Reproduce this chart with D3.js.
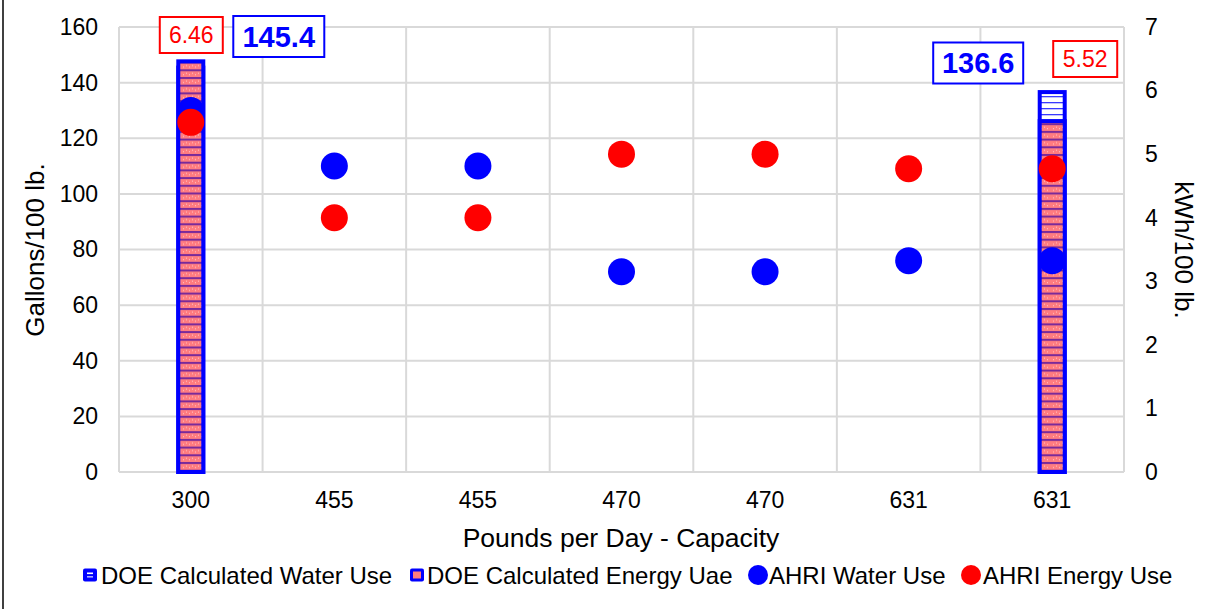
<!DOCTYPE html>
<html><head><meta charset="utf-8">
<script src="https://cdn.jsdelivr.net/npm/d3@7"></script>
<style>body{margin:0;background:#fff}svg{display:block;font-family:"Liberation Sans",Arial,sans-serif}</style>
</head><body>
<script>
const categories = ["300","455","455","470","470","631","631"];
const doeWater   = [145.4,null,null,null,null,null,136.6];
const doeEnergy  = [6.46,null,null,null,null,null,5.52];
const ahriWater  = [130,110,110,72,72,76,76];
const ahriEnergy = [5.5,4.0,4.0,5.0,5.0,4.77,4.77];
const leftTicks  = [0,20,40,60,80,100,120,140,160];
const rightTicks = [0,1,2,3,4,5,6,7];
const seriesNames = ["DOE Calculated Water Use","DOE Calculated Energy Uae","AHRI Water Use","AHRI Energy Use"];

const W=1215,H=609;
const svg=d3.select("body").append("svg").attr("width",W).attr("height",H);
const defs=svg.append("defs");
const pw=defs.append("pattern").attr("id","pw").attr("patternUnits","userSpaceOnUse").attr("width",30).attr("height",6);
pw.append("rect").attr("width",30).attr("height",6).attr("fill","#fff");
pw.append("rect").attr("y",0).attr("width",30).attr("height",1.3).attr("fill","#3a3aff");
const pe=defs.append("pattern").attr("id","pe").attr("patternUnits","userSpaceOnUse").attr("width",30).attr("height",7.7);
pe.append("rect").attr("width",30).attr("height",7.7).attr("fill","#ff7c80");
pe.append("rect").attr("y",0).attr("width",30).attr("height",2).attr("fill","#7a2a9a");
[3,6,9,12,15,18,21,24,27].forEach((x,i)=>{pe.append("rect").attr("x",x).attr("y",i%2?3.5:5).attr("width",1).attr("height",1).attr("fill","#ffc8c8");});

const x=d3.scaleBand().domain(d3.range(categories.length)).range([119,1124]);
const y=d3.scaleLinear().domain([0,160]).range([472,27]);
const yR=d3.scaleLinear().domain([0,7]).range([472,27]);
const grid="#d9d9d9";

// grid
svg.append("g").selectAll("line").data(leftTicks).join("line")
 .attr("x1",119).attr("x2",1124).attr("y1",d=>y(d)).attr("y2",d=>y(d))
 .attr("stroke",grid).attr("stroke-width",2);
svg.append("g").selectAll("line").data(d3.range(categories.length+1)).join("line")
 .attr("x1",d=>119+d*x.step()).attr("x2",d=>119+d*x.step()).attr("y1",27).attr("y2",472)
 .attr("stroke",grid).attr("stroke-width",2);

// axes
const gl=svg.append("g").attr("transform","translate(119,0)")
 .call(d3.axisLeft(y).tickValues(leftTicks).tickSize(0).tickPadding(21));
const gr=svg.append("g").attr("transform","translate(1124,0)")
 .call(d3.axisRight(yR).tickValues(rightTicks).tickFormat(d3.format("d")).tickSize(0).tickPadding(21));
const gb=svg.append("g").attr("transform","translate(0,472)")
 .call(d3.axisBottom(x).tickFormat(i=>categories[i]).tickSize(0).tickPadding(20));
[gl,gr,gb].forEach(g=>{g.select(".domain").remove();g.selectAll("text").attr("font-size",23).attr("fill","#000").attr("font-family","Liberation Sans, Arial");});
svg.append("line").attr("x1",119).attr("x2",1124).attr("y1",472).attr("y2",472).attr("stroke",grid).attr("stroke-width",2);

// bars
const bw=25;
const bx=i=>x(i)+x.bandwidth()/2-bw/2;
svg.append("g").selectAll("rect").data(doeWater.map((v,i)=>({v,i})).filter(d=>d.v!=null)).join("rect")
 .attr("x",d=>bx(d.i)).attr("width",bw).attr("y",d=>y(d.v)).attr("height",d=>472-y(d.v))
 .attr("fill","url(#pw)").attr("stroke","#0000ff").attr("stroke-width",4);
svg.append("g").selectAll("rect").data(doeEnergy.map((v,i)=>({v,i})).filter(d=>d.v!=null)).join("rect")
 .attr("x",d=>bx(d.i)).attr("width",bw).attr("y",d=>yR(d.v)).attr("height",d=>472-yR(d.v))
 .attr("fill","url(#pe)").attr("stroke","#0000ff").attr("stroke-width",4);

// dots
svg.append("g").selectAll("circle").data(ahriWater).join("circle")
 .attr("cx",(d,i)=>x(i)+x.bandwidth()/2).attr("cy",d=>y(d)).attr("r",13.5).attr("fill","#0000ff");
svg.append("g").selectAll("circle").data(ahriEnergy).join("circle")
 .attr("cx",(d,i)=>x(i)+x.bandwidth()/2).attr("cy",d=>yR(d)).attr("r",13.5).attr("fill","#ff0000");

// data labels
function label(cx,cy,w,h,text,color,bold,size){
  svg.append("rect").attr("x",cx-w/2).attr("y",cy-h/2).attr("width",w).attr("height",h)
   .attr("fill","#fff").attr("stroke",color).attr("stroke-width",2);
  svg.append("text").attr("x",cx).attr("y",cy).attr("dy","0.36em").attr("text-anchor","middle")
   .attr("font-size",size).attr("font-weight",bold?"bold":"normal").attr("fill",color).text(text);
}
const c0=x(0)+x.bandwidth()/2, c6=x(6)+x.bandwidth()/2;
label(c0+0.5,35,63,36,doeEnergy[0].toFixed(2),"#ff0000",false,23);
label(c0+88,36.5,91,41,doeWater[0].toFixed(1),"#0000ff",true,29);
label(c6-74,63,90,41,doeWater[6].toFixed(1),"#0000ff",true,29);
label(c6+33,59,64,36,doeEnergy[6].toFixed(2),"#ff0000",false,23);

// axis titles
svg.append("text").attr("transform","translate(44,250) rotate(-90)").attr("text-anchor","middle")
 .attr("font-size",26).text("Gallons/100 lb.");
svg.append("text").attr("transform","translate(1175,250) rotate(90)").attr("text-anchor","middle")
 .attr("font-size",26).text("kWh/100 lb.");
svg.append("text").attr("x",621).attr("y",547).attr("text-anchor","middle")
 .attr("font-size",26.5).text("Pounds per Day - Capacity");

// legend
const ly=575;
const lg=svg.append("g");
lg.append("rect").attr("x",83).attr("y",ly-6.5).attr("width",14).attr("height",13).attr("rx",2).attr("fill","#0000ff");
lg.append("rect").attr("x",87).attr("y",ly-2.5).attr("width",6).attr("height",1.6).attr("fill","#fff");
lg.append("rect").attr("x",87).attr("y",ly+1).attr("width",6).attr("height",1.6).attr("fill","#aaaaff");
lg.append("rect").attr("x",410).attr("y",ly-6.5).attr("width",14).attr("height",13).attr("rx",2).attr("fill","#0000ff");
lg.append("rect").attr("x",413).attr("y",ly-3.5).attr("width",8).attr("height",7).attr("fill","#ff7c80");
lg.append("circle").attr("cx",758).attr("cy",ly).attr("r",10).attr("fill","#0000ff");
lg.append("circle").attr("cx",971).attr("cy",ly).attr("r",10).attr("fill","#ff0000");
const lx=[101,427,769,983];
lg.selectAll("text").data(seriesNames).join("text").attr("x",(d,i)=>lx[i]).attr("y",ly).attr("dy","0.36em")
 .attr("font-size",24).text(d=>d);

svg.append("line").attr("x1",3).attr("x2",3).attr("y1",0).attr("y2",H).attr("stroke","#000").attr("stroke-width",1.5);
</script>
</body></html>
